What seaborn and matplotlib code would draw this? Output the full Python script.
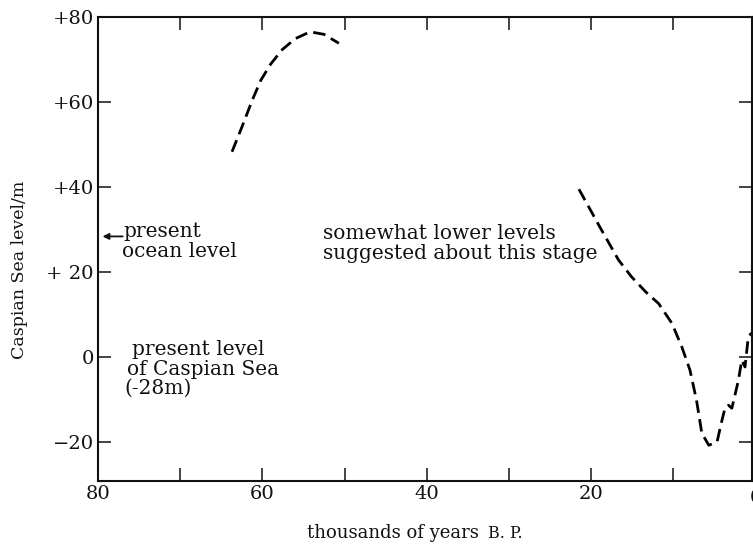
import matplotlib
matplotlib.use("Agg")
import matplotlib.pyplot as plt
import seaborn as sns
import pandas as pd

# Early high stand (dashed reconstruction)
early_age = [63.7, 62.5, 61.2, 60.2, 59.0, 57.6, 56.0, 54.2, 52.5, 50.7]
early_level = [48.2, 54.0, 60.5, 65.0, 68.8, 72.2, 74.8, 76.4, 75.8, 73.7]

# Late Pleistocene to Holocene fall and recovery
late_age = [21.5, 19.1, 16.7, 15.1, 13.4, 11.8, 10.2, 9.0, 8.0, 7.2, 6.55,
            5.7, 4.7, 4.1, 3.7, 3.3, 2.9, 2.1, 1.7, 1.3, 0.9, 0.5]
late_level = [39.4, 31.0, 22.8, 18.8, 15.3, 12.5, 7.9, 2.4, -3.1, -10.2, -18.0,
              -20.8, -20.0, -14.9, -11.8, -11.4, -12.1, -5.5, -0.8, -2.4, 4.7, 5.6]

x_major = [80, 60, 40, 20]
x_minor = [70, 60, 50, 40, 30, 20, 10]
y_ticks = [80, 60, 40, 20, 0, -20]
y_labels = ["+80", "+60", "+40", "+ 20", "0", "\u221220"]

sns.set_theme(style="ticks")
plt.rcParams["font.family"] = ["DejaVu Serif"]
plt.rcParams["mathtext.fontset"] = "dejavuserif"

W, H = 753, 544
fig = plt.figure(figsize=(W / 100, H / 100), dpi=100)
ax = fig.add_axes([98 / W, 1 - 481 / H, (752 - 98) / W, (481 - 16.5) / H])

early = pd.DataFrame({"age": early_age, "level": early_level})
late = pd.DataFrame({"age": late_age, "level": late_level})
for df in (early, late):
    sns.lineplot(data=df, x="age", y="level", ax=ax, sort=False, color="black",
                 linewidth=2.0, dashes=False, linestyle=(0, (4.5, 2.3)))

ax.set_xlim(80, 0.45)
ax.set_ylim(-29.2, 80)

ink = "#111111"
for s in ax.spines.values():
    s.set_visible(True)
    s.set_linewidth(1.5)
    s.set_color(ink)

tick_fs = 14
ax.set_xticks(x_major)
ax.set_xticklabels([str(v) for v in x_major], fontsize=tick_fs, color=ink)
ax.set_xticks(x_minor, minor=True)
ax.set_yticks(y_ticks)
ax.set_yticklabels(y_labels, fontsize=tick_fs, color=ink)
ax.tick_params(axis="x", which="both", direction="in", length=9.5, width=1.1,
               top=True, bottom=True, pad=3, colors=ink)
ax.tick_params(axis="y", which="major", direction="in", length=9.5, width=1.1,
               left=True, right=True, pad=3, colors=ink)
ax.set_xlabel("")
ax.set_ylabel("")

# label for present day at the right edge
ax.text(0, -31.0, "0", fontsize=tick_fs, color=ink, ha="center", va="top",
        clip_on=False)

# present ocean level marker
ax.annotate("", xy=(79.45, 28.3), xytext=(77.0, 28.3),
            arrowprops=dict(arrowstyle="-|>", color=ink, lw=1.3,
                            mutation_scale=9, shrinkA=0, shrinkB=0))
fs = 14.5
ax.text(76.9, 28.1, "present", fontsize=fs, color=ink, va="baseline", ha="left")
ax.text(77.1, 23.5, "ocean level", fontsize=fs, color=ink, va="baseline", ha="left")

ax.text(52.6, 27.8, "somewhat lower levels", fontsize=fs, color=ink,
        va="baseline", ha="left")
ax.text(52.6, 23.1, "suggested about this stage", fontsize=fs, color=ink,
        va="baseline", ha="left")

ax.text(75.9, 0.4, "present level", fontsize=fs, color=ink, va="baseline", ha="left")
ax.text(76.5, -4.3, "of Caspian Sea", fontsize=fs, color=ink, va="baseline", ha="left")
ax.text(76.8, -8.6, "(-28m)", fontsize=fs, color=ink, va="baseline", ha="left")

# axis titles
fig.text(20 / W, 1 - 270 / H, "Caspian Sea level/m", rotation=90, fontsize=12.5,
         color=ink, ha="center", va="center")
fig.text(307 / W, 1 - 538 / H, "thousands of years", fontsize=13, color=ink,
         ha="left", va="baseline")
fig.text(488 / W, 1 - 538 / H, "B. P.", fontsize=11.5, color=ink,
         ha="left", va="baseline")

fig.savefig("out.png", dpi=100)
